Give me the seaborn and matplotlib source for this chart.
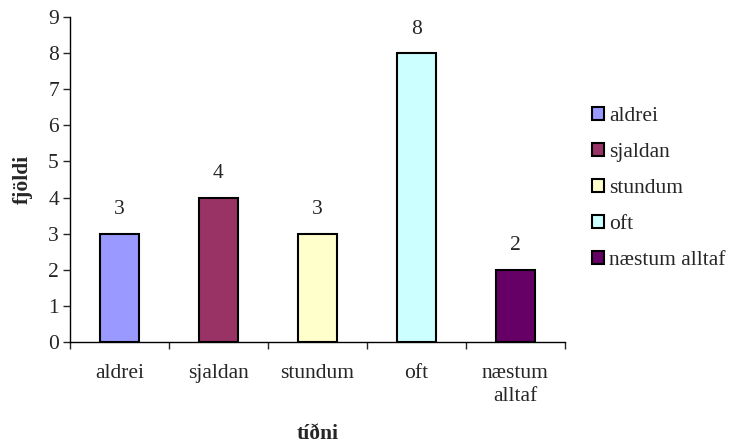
import matplotlib
matplotlib.use("Agg")
import matplotlib.pyplot as plt
import seaborn as sns
import pandas as pd
from matplotlib.patches import Patch

categories = ["aldrei", "sjaldan", "stundum", "oft", "næstum alltaf"]
tick_labels = ["aldrei", "sjaldan", "stundum", "oft", "næstum\nalltaf"]
counts = [3, 4, 3, 8, 2]
colors = ["#9999FF", "#993366", "#FFFFCC", "#CCFFFF", "#660066"]

sns.set_style("white")
plt.rcParams["font.family"] = ["Liberation Serif", "DejaVu Serif"]

FS = 15.5

df = pd.DataFrame({"tíðni": categories, "fjöldi": counts})

fig = plt.figure(figsize=(7.33, 4.48), dpi=100)
ax = fig.add_axes([0.0955, 0.2366, 0.675, 0.7254])

sns.barplot(data=df, x="tíðni", y="fjöldi", hue="tíðni", palette=colors,
            saturation=1, dodge=False, width=0.4, edgecolor="black",
            linewidth=1.5, legend=False, ax=ax)

ax.set_xlim(-0.5, len(categories) - 0.5)
ax.set_ylim(0, 9)
ax.set_yticks(range(0, 10))
ax.tick_params(axis="y", labelsize=FS, length=5, width=1, direction="out", left=True, pad=3)
ax.set_xticks(range(len(categories)))
ax.set_xticklabels(tick_labels, fontsize=FS, linespacing=1.3)
ax.tick_params(axis="x", length=0, pad=16)
# category boundary ticks
ax.set_xticks([i - 0.5 for i in range(len(categories) + 1)], minor=True)
ax.tick_params(axis="x", which="minor", length=5, width=1, direction="out", bottom=True)

for s in ["top", "right"]:
    ax.spines[s].set_visible(False)
for s in ["left", "bottom"]:
    ax.spines[s].set_color("black")
    ax.spines[s].set_linewidth(1)

for i, v in enumerate(counts):
    ax.text(i, v + 0.4, str(v), ha="center", va="bottom", fontsize=FS)

ax.set_xlabel("tíðni", fontsize=FS, fontweight="bold", labelpad=13)
ax.set_ylabel("fjöldi", fontsize=FS, fontweight="bold", labelpad=11)

handles = [Patch(facecolor=c, edgecolor="black", linewidth=1.5) for c in colors]
fig.legend(handles, categories, loc="upper left", bbox_to_anchor=(0.808, 0.762),
           frameon=False, fontsize=FS, handlelength=0.55, handleheight=0.55,
           handletextpad=0.25, labelspacing=0.79, borderpad=0, borderaxespad=0)

fig.savefig("out.png", dpi=100)
